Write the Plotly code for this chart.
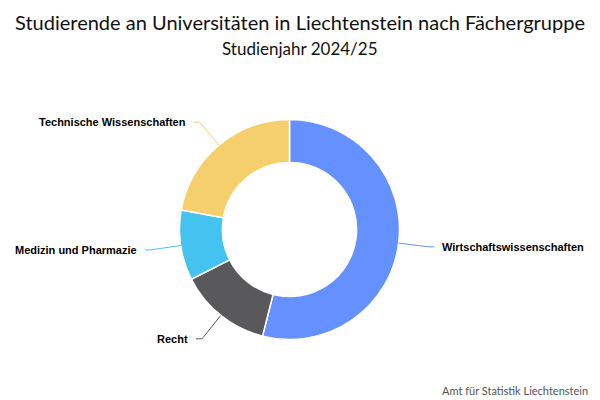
import numpy as np
import plotly.graph_objects as go

# Studierende nach Fächergruppe, Studienjahr 2024/25 (aus der Grafik geschätzt)
categories = ["Wirtschaftswissenschaften", "Recht", "Medizin und Pharmazie", "Technische Wissenschaften"]
students = [540, 136, 103, 222]
colors = ["#6491FF", "#59595B", "#45C3F0", "#F5CF6B"]

W, H = 600, 400
cx, cy, r_out = 289.5, 229.5, 110   # pie centre / radius in pixels


def px(x, y):
    return x / W, 1 - y / H


x0, y0 = px(cx - r_out, cy - r_out)
x1, y1 = px(cx + r_out, cy + r_out)

fig = go.Figure(go.Pie(
    labels=categories,
    values=students,
    hole=0.61,
    sort=False,
    direction="clockwise",
    rotation=0,
    textinfo="none",
    hoverinfo="label+value+percent",
    marker=dict(colors=colors, line=dict(color="white", width=1.5)),
    domain=dict(x=[x0, x1], y=[y1, y0]),
    showlegend=False,
))

# leader lines and labels, placed from the slice mid angles
vals = np.array(students, dtype=float)
cum = np.cumsum(vals) / vals.sum()
mid = (cum - vals / vals.sum() / 2) * 2 * np.pi
len1, len2, gap = 30, 6, 6
for name, ang, col in zip(categories, mid, colors):
    sx, sy = cx + r_out * np.sin(ang), cy - r_out * np.cos(ang)
    ex, ey = cx + (r_out + len1) * np.sin(ang), cy - (r_out + len1) * np.cos(ang)
    side = 1 if np.sin(ang) > 0 else -1
    hx = ex + side * len2
    pts = [px(sx, sy), px(ex, ey), px(hx, ey)]
    path = "M {} {} L {} {} L {} {}".format(*[v for p in pts for v in p])
    fig.add_shape(type="path", path=path, xref="paper", yref="paper",
                  line=dict(color=col, width=1))
    tx, ty = px(hx + side * gap, ey)
    fig.add_annotation(x=tx, y=ty, xref="paper", yref="paper", text=name,
                       showarrow=False, xanchor="left" if side > 0 else "right",
                       yanchor="middle",
                       font=dict(family="Liberation Sans, Arial", size=11, color="black", weight="bold"))

fig.add_annotation(x=0.5, y=1 - 22 / H, xref="paper", yref="paper",
                   text="Studierende an Universitäten in Liechtenstein nach Fächergruppe",
                   showarrow=False, yanchor="middle",
                   font=dict(family="Lato", size=20, color="#111"))
fig.add_annotation(x=0.5, y=1 - 48 / H, xref="paper", yref="paper",
                   text="Studienjahr 2024/25", showarrow=False, yanchor="middle",
                   font=dict(family="Lato", size=17, color="#111"))
fig.add_annotation(x=1 - 10 / W, y=1 - 390 / H, xref="paper", yref="paper",
                   text="Amt für Statistik Liechtenstein", showarrow=False,
                   xanchor="right", yanchor="middle",
                   font=dict(family="Lato", size=11, color="#555"))

fig.update_layout(
    width=W, height=H,
    margin=dict(l=0, r=0, t=0, b=0),
    paper_bgcolor="white",
)

# the page body has a default 8px margin; drop it so the chart fills the window
fig.write_html("out.html", config={"displayModeBar": False},
               post_script="document.body.style.margin='0px';")
